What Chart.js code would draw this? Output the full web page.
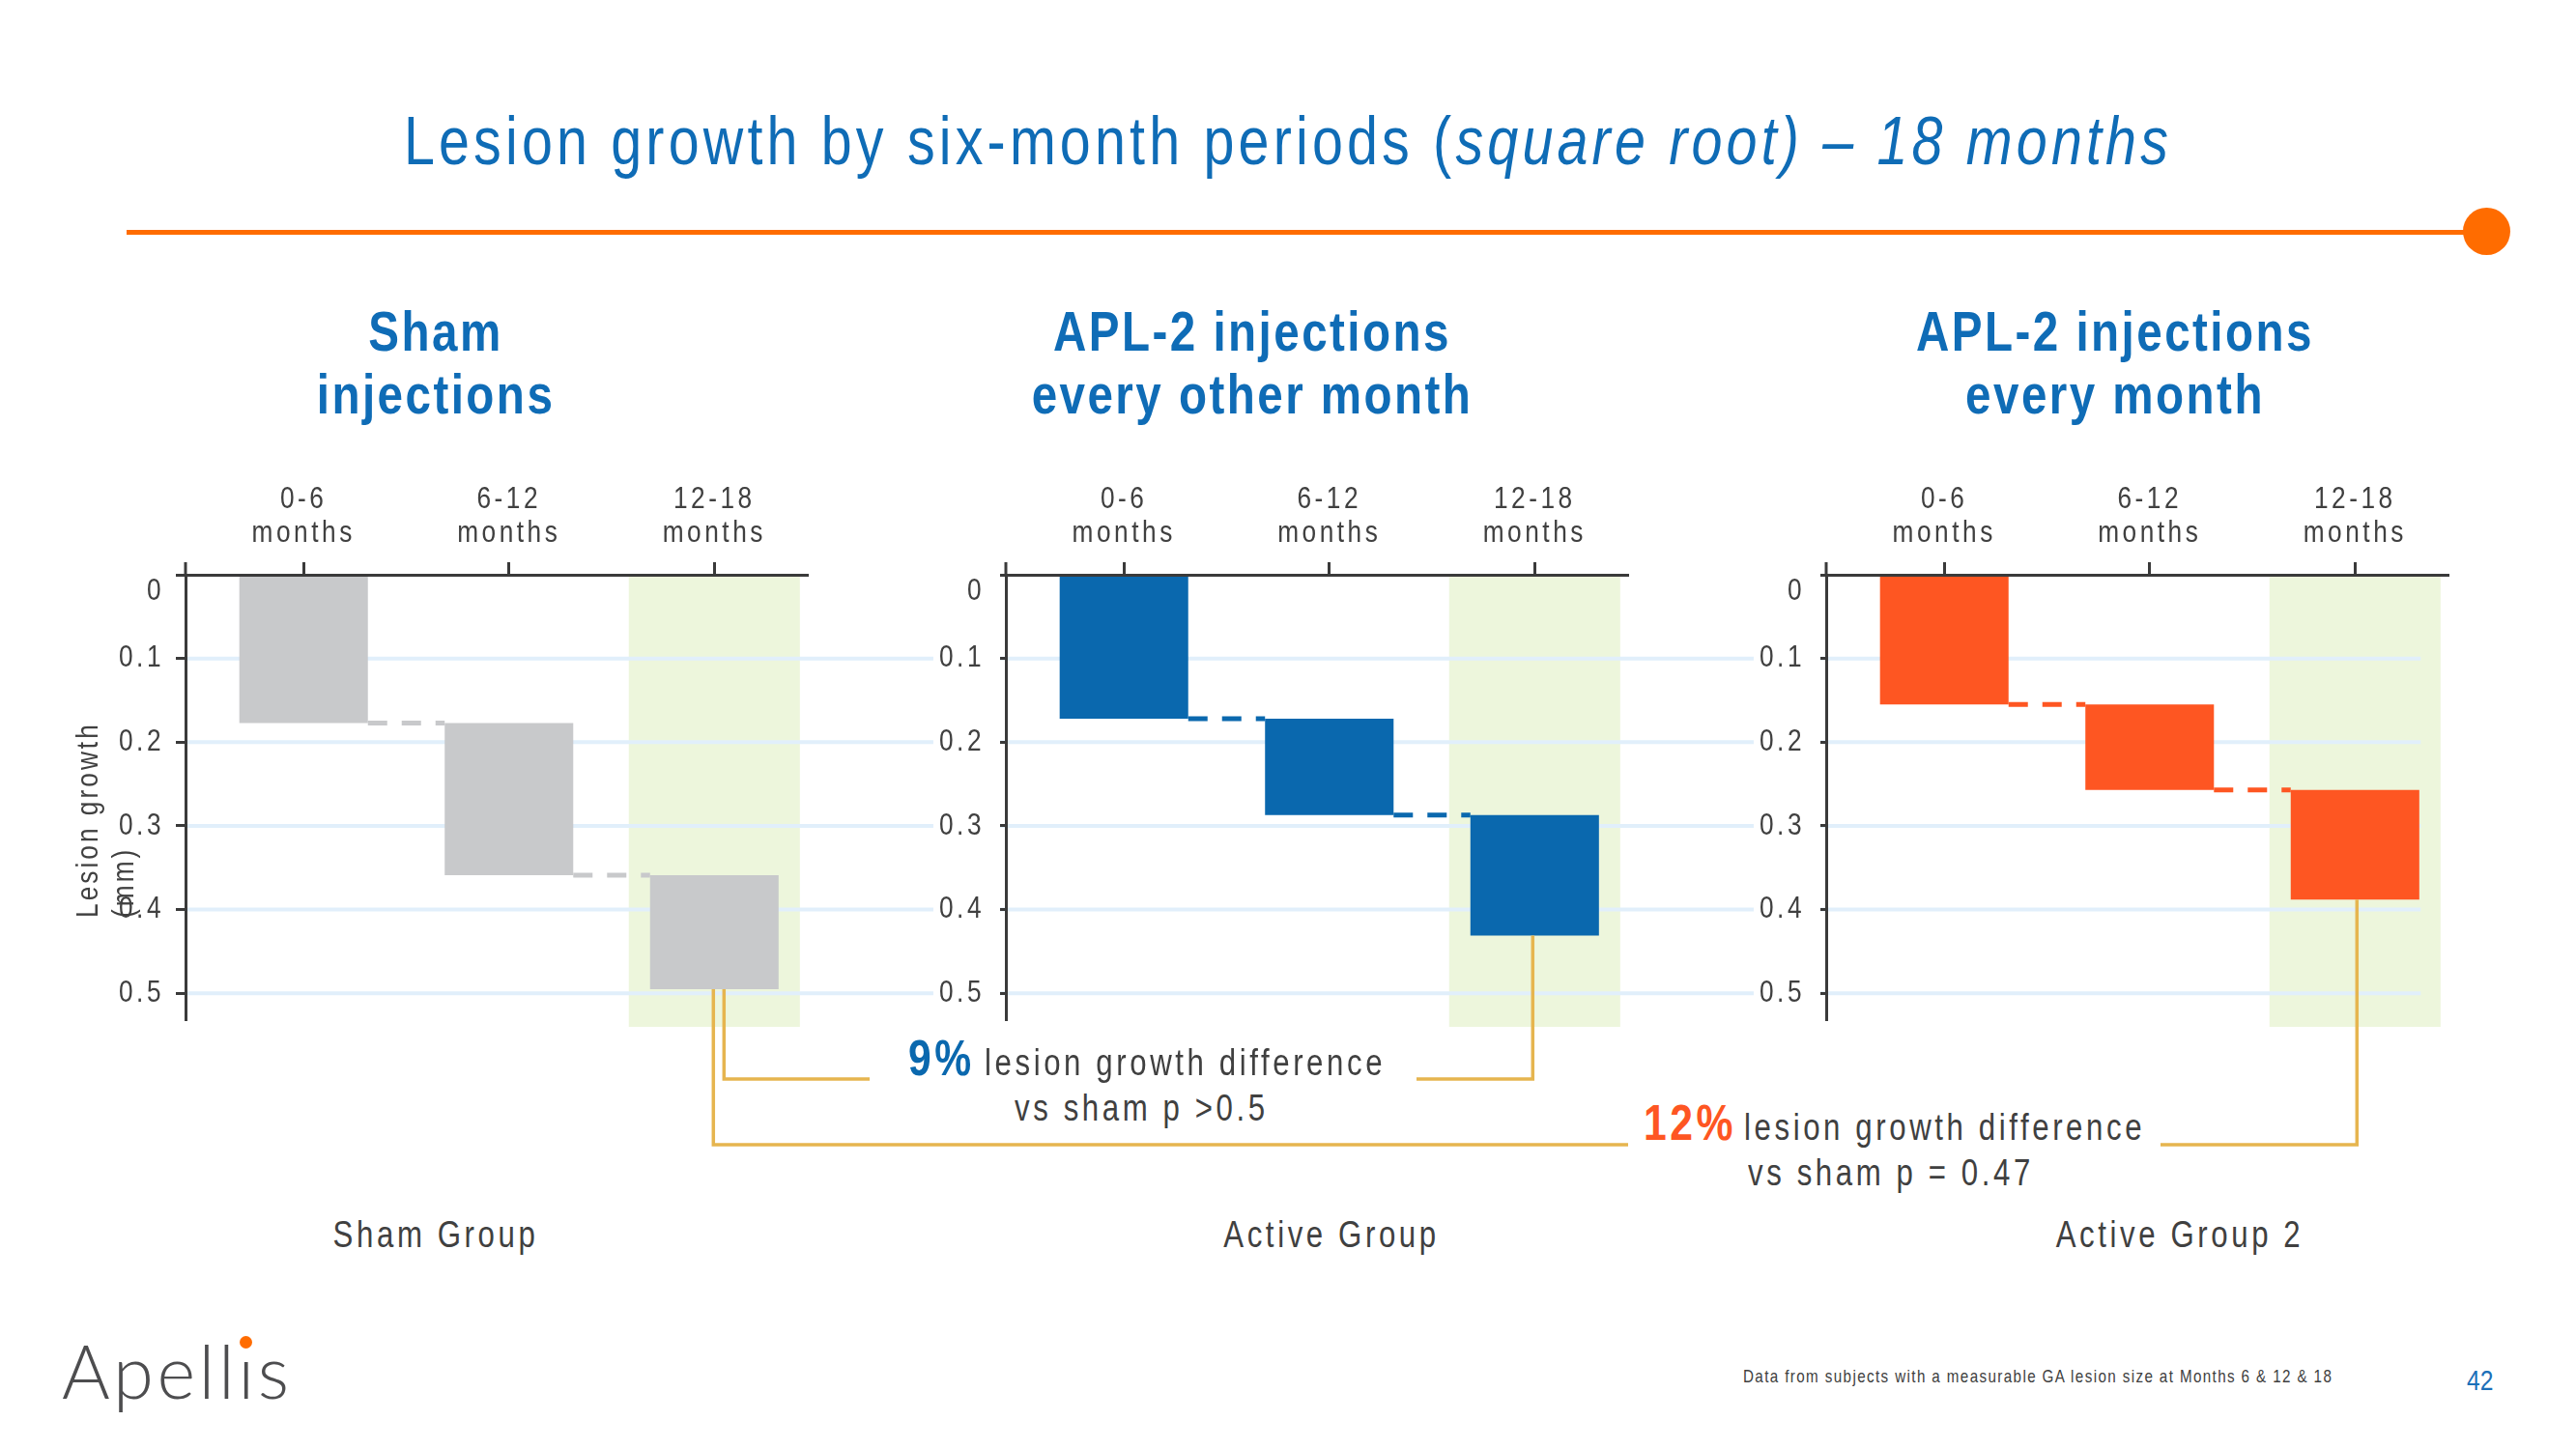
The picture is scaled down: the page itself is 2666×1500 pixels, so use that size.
<!DOCTYPE html>
<html>
<head>
<meta charset="utf-8">
<script src="https://cdn.jsdelivr.net/npm/chart.js@4.4.1/dist/chart.umd.min.js"></script>
<style>
    html, body { margin: 0; padding: 0; background: #fff; }
    #page {
        position: relative; width: 2666px; height: 1500px; overflow: hidden; background: #fff;
        font-family: 'Liberation Sans', Arial, sans-serif;
        color: #404040;
    }
    .t { position: absolute; white-space: nowrap; transform: scaleX(0.82); transform-origin: 0 0; }
    .c { transform-origin: 50% 0; text-align: center; }
    canvas { position: absolute; }
    #title { left: 0; width: 2666px; top: 111px; font-size: 70px; line-height: 70px; letter-spacing: 5.1px; color: #0f6cb6; }
    .head { width: 700px; top: 310px; font-size: 58px; line-height: 65px; font-weight: bold; letter-spacing: 3px; color: #0f6cb6; }
    .rule { position: absolute; left: 131px; top: 238px; width: 2440px; height: 5px; background: #ff6c00; }
    .dot { position: absolute; left: 2549px; top: 215px; width: 49px; height: 49px; border-radius: 50%; background: #ff6c00; }
    #ytitle { left: 72px; top: 950px; font-size: 32px; line-height: 37px; letter-spacing: 3.7px; transform: rotate(-90deg) scaleX(0.82); }
    .note { font-size: 38px; line-height: 38px; letter-spacing: 4.4px; }
    .pct { font-size: 52px; line-height: 52px; font-weight: bold; letter-spacing: 4.3px; }
    .group { width: 500px; top: 1259px; font-size: 38px; line-height: 38px; letter-spacing: 4.4px; }
    #foot { left: 1804px; top: 1416px; font-size: 18.5px; line-height: 18.5px; letter-spacing: 1.7px; }
    #pageno { left: 2553px; top: 1414px; font-size: 30px; line-height: 30px; color: #1b6fb8; }
    #logo { position: absolute; left: 64px; top: 1381px; white-space: nowrap; font-family: Lato, 'Noto Sans', sans-serif; font-weight: 300; font-size: 76px; line-height: 76px; letter-spacing: 3.5px; color: #4d4d4f; }
    .idot { position: relative; }
    .idot::after { content: ''; position: absolute; left: calc(50% - 8px); top: 10px; width: 13px; height: 13px; border-radius: 50%; background: #ff6c00; }
    #overlay { left: 0; top: 0; pointer-events: none; }
</style>
</head>
<body>
<div id="page">
    <div class="t c" id="title">Lesion growth by six-month periods (<i>square root) – 18 months</i></div>
    <div class="rule"></div>
    <div class="dot"></div>

    <div class="t c head" style="left:101px">Sham<br>injections</div>
    <div class="t c head" style="left:946px">APL-2 injections<br>every other month</div>
    <div class="t c head" style="left:1839px">APL-2 injections<br>every month</div>

    <canvas id="c1" width="849" height="620" style="left:60px;top:480px"></canvas>
    <canvas id="c2" width="849" height="620" style="left:909px;top:480px"></canvas>
    <canvas id="c3" width="792" height="620" style="left:1758px;top:480px"></canvas>

    <div class="t" id="ytitle">Lesion growth<br>(mm)</div>

    <div class="t pct" style="left:940px;top:1069px;color:#0a68ae">9%</div>
    <div class="t note" style="left:1019px;top:1081px">lesion growth difference</div>
    <div class="t note" style="left:1050px;top:1128px">vs sham p &gt;0.5</div>
    <div class="t pct" style="left:1701px;top:1136px;color:#fe5622">12%</div>
    <div class="t note" style="left:1805px;top:1148px">lesion growth difference</div>
    <div class="t note" style="left:1809px;top:1195px">vs sham p = 0.47</div>

    <div class="t c group" style="left:201px">Sham Group</div>
    <div class="t c group" style="left:1128px">Active Group</div>
    <div class="t c group" style="left:2006px">Active Group 2</div>

    <div id="logo">Apell<span class="idot">ı</span>s</div>
    <div class="t" id="foot">Data from subjects with a measurable GA lesion size at Months 6 &amp; 12 &amp; 18</div>
    <div class="t" id="pageno">42</div>

    <canvas id="overlay" width="2666" height="1500"></canvas>
</div>

<script>
// Datos (raíz cuadrada del crecimiento acumulado, mm)
const periods = [['0-6', 'months'], ['6-12', 'months'], ['12-18', 'months']];
const periodPositions = [0, 1, 2];
const shamGrowth = [0.177, 0.359, 0.495];
const everyOtherMonthGrowth = [0.172, 0.287, 0.431];
const everyMonthGrowth = [0.155, 0.257, 0.388];
const yTickValues = [0, 0.1, 0.2, 0.3, 0.4, 0.5];
const highlightPeriod = 2;
const highlightRange = [0, 0.54];

// Estilo
const FONT = "'Liberation Sans', Arial, sans-serif";
const NARROW = 0.82;
const AXIS = '#3a3a3a';
const TEXT = '#404040';
const GRID = '#e1effb';
const GREEN = '#edf6dc';
const GOLD = '#e6b54f';
const Y_AXIS_W = 132;
const X_AXIS_H = 115;
const PLOT_W = 644;

const panels = [
    { canvas: 'c1', values: shamGrowth, color: '#c8c9cb', gridFromEdge: false, gridEnd: null },
    { canvas: 'c2', values: everyOtherMonthGrowth, color: '#0a68ae', gridFromEdge: true, gridEnd: null },
    { canvas: 'c3', values: everyMonthGrowth, color: '#fe5622', gridFromEdge: true, gridEnd: 2.32 }
];

// Líneas de llamada (posición en la página)
const callouts = [
    { panel: 0, dx: 10, yLevel: 1117, xEnd: 900 },
    { panel: 1, dx: -2, yLevel: 1117, xEnd: 1466 },
    { panel: 0, dx: -1, yLevel: 1185, xEnd: 1685 },
    { panel: 2, dx: 2, yLevel: 1185, xEnd: 2236 }
];

const $ = (id) => document.getElementById(id);

// Texto estrecho en el canvas (como Arial Narrow)
function narrowText(ctx) {
    const fill = CanvasRenderingContext2D.prototype.fillText;
    const measure = CanvasRenderingContext2D.prototype.measureText;
    ctx.fillText = function (text, x, y) {
        this.save();
        this.translate(x, y);
        this.scale(NARROW, 1);
        fill.call(this, text, 0, 0);
        this.restore();
    };
    ctx.measureText = function (text) {
        const m = measure.call(this, text);
        return {
            width: m.width * NARROW,
            actualBoundingBoxAscent: m.actualBoundingBoxAscent,
            actualBoundingBoxDescent: m.actualBoundingBoxDescent
        };
    };
}

// Plugin: rejilla extendida, conectores punteados y remate del eje
const waterfallDecor = {
    id: 'waterfallDecor',
    beforeUpdate(chart) { chart.ctx.letterSpacing = '4.3px'; },
    beforeDraw(chart) { chart.ctx.letterSpacing = '4.3px'; },
    afterDatasetDraw(chart, args, opts) {
        if (!chart.data.datasets[args.index].highlight) return;
        const { ctx, chartArea, scales: { x, y } } = chart;
        const from = opts.gridFromEdge ? 0 : chartArea.left;
        const to = opts.gridEnd == null ? chart.width : x.getPixelForValue(opts.gridEnd);
        ctx.save();
        ctx.strokeStyle = GRID;
        ctx.lineWidth = 4;
        y.ticks.forEach(t => {
            if (t.value === 0) return;
            const py = y.getPixelForValue(t.value);
            ctx.beginPath();
            ctx.moveTo(from, py);
            ctx.lineTo(to, py);
            ctx.stroke();
        });
        ctx.restore();
    },
    afterDatasetsDraw(chart) {
        const ds = chart.data.datasets[0];
        const meta = chart.getDatasetMeta(0);
        const { ctx, scales: { y } } = chart;
        ctx.save();
        ctx.setLineDash([20, 15]);
        ctx.lineWidth = 5;
        ctx.strokeStyle = ds.backgroundColor;
        for (let i = 0; i < meta.data.length - 1; i++) {
            const a = meta.data[i], b = meta.data[i + 1];
            const py = y.getPixelForValue(ds.data[i].y[1]);
            ctx.beginPath();
            ctx.moveTo(a.x + a.width / 2, py);
            ctx.lineTo(b.x - b.width / 2, py);
            ctx.stroke();
        }
        ctx.restore();
    },
    afterDraw(chart) {
        const { ctx, chartArea } = chart;
        ctx.save();
        ctx.strokeStyle = AXIS;
        ctx.lineWidth = 3;
        ctx.beginPath();
        ctx.moveTo(chartArea.left, chartArea.top - 13);
        ctx.lineTo(chartArea.left, chartArea.top);
        ctx.stroke();
        ctx.restore();
    }
};

function buildBars(values) {
    return periodPositions.map((p, i) => ({ x: p, y: [i === 0 ? 0 : values[i - 1], values[i]] }));
}

function createPanel(panel) {
    const canvas = $(panel.canvas);
    narrowText(canvas.getContext('2d'));
    return new Chart(canvas, {
        type: 'bar',
        data: {
            datasets: [
                {
                    data: buildBars(panel.values),
                    backgroundColor: panel.color,
                    barPercentage: 0.626,
                    categoryPercentage: 1,
                    grouped: false,
                    order: 1
                },
                {
                    highlight: true,
                    data: [{ x: periodPositions[highlightPeriod], y: highlightRange }],
                    backgroundColor: GREEN,
                    barPercentage: 0.833,
                    categoryPercentage: 1,
                    grouped: false,
                    clip: false,
                    order: 2
                }
            ]
        },
        options: {
            responsive: false,
            animation: false,
            layout: { padding: { left: 0, top: 0, right: canvas.width - Y_AXIS_W - PLOT_W, bottom: 44 } },
            scales: {
                x: {
                    type: 'linear',
                    position: 'top',
                    min: -0.575,
                    max: 2.455,
                    offset: false,
                    afterBuildTicks: (s) => { s.ticks = periodPositions.map(v => ({ value: v })); },
                    afterFit: (s) => { s.height = X_AXIS_H; s.paddingLeft = 0; s.paddingRight = 0; },
                    grid: { offset: false, drawOnChartArea: false, drawTicks: true, tickLength: 13, tickWidth: 3, tickColor: AXIS, z: 1 },
                    border: { display: true, color: AXIS, width: 3, z: 1 },
                    ticks: {
                        callback: (v) => periods[v],
                        font: { family: FONT, size: 32, lineHeight: 1.1 },
                        color: TEXT,
                        padding: 12,
                        maxRotation: 0,
                        autoSkip: false,
                        z: 1
                    }
                },
                y: {
                    type: 'linear',
                    reverse: true,
                    min: 0,
                    max: 0.532,
                    afterBuildTicks: (s) => { s.ticks = yTickValues.map(v => ({ value: v })); },
                    afterFit: (s) => { s.width = Y_AXIS_W; s.paddingTop = 0; s.paddingBottom = 0; },
                    grid: { drawOnChartArea: false, drawTicks: true, tickLength: 10, tickWidth: 3, tickColor: AXIS, z: 1 },
                    border: { display: true, color: AXIS, width: 3, z: 1 },
                    ticks: {
                        callback: (v) => v === 0 ? ['', '0'] : v.toFixed(1),
                        font: { family: FONT, size: 32, lineHeight: 1.1 },
                        color: TEXT,
                        padding: 12,
                        z: 1,
                        showLabelBackdrop: panel.gridFromEdge,
                        backdropColor: '#ffffff',
                        backdropPadding: { left: 6, right: 16, top: 2, bottom: 2 }
                    }
                }
            },
            plugins: {
                legend: { display: false },
                tooltip: { enabled: false },
                waterfallDecor: { gridFromEdge: panel.gridFromEdge, gridEnd: panel.gridEnd }
            }
        },
        plugins: [waterfallDecor]
    });
}

function drawCallouts(charts) {
    const ctx = $('overlay').getContext('2d');
    ctx.strokeStyle = GOLD;
    ctx.lineWidth = 3.5;
    callouts.forEach(c => {
        const chart = charts[c.panel];
        const canvas = $(panels[c.panel].canvas);
        const left = parseFloat(canvas.style.left), top = parseFloat(canvas.style.top);
        const bar = chart.getDatasetMeta(0).data[highlightPeriod];
        const x0 = left + bar.x + c.dx;
        const y0 = top + chart.scales.y.getPixelForValue(panels[c.panel].values[highlightPeriod]);
        ctx.beginPath();
        ctx.moveTo(x0, y0);
        ctx.lineTo(x0, c.yLevel);
        ctx.lineTo(c.xEnd, c.yLevel);
        ctx.stroke();
    });
}

const charts = panels.map(createPanel);
drawCallouts(charts);
</script>
</body>
</html>
